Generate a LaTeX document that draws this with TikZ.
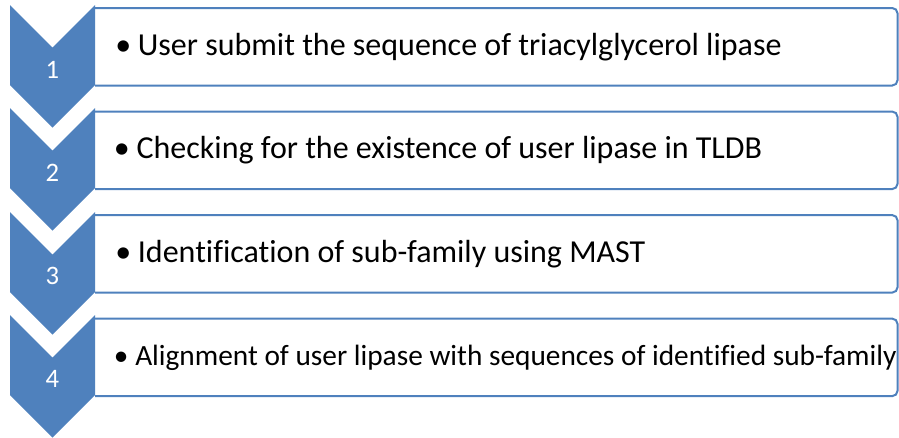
\documentclass[tikz,border=0pt]{standalone}
\usepackage{fontspec}
\setmainfont{Carlito}[Ligatures=NoCommon]
\usetikzlibrary{positioning}

\definecolor{stepblue}{HTML}{4F81BD}

\begin{document}
\begin{tikzpicture}
[x=0.75pt, y=-0.75pt,
 chev/.style={fill=stepblue, draw=none},
 num/.style={text=white, inner sep=0pt, font=\fontsize{20}{22}\selectfont},
 stepbox/.style={minimum width=601.5pt, minimum height=57.75pt, inner sep=0pt,
   fill=white, draw=none},
 boxline/.style={draw=stepblue, line width=1.5pt, rounded corners=4pt},
 steptext/.style={inner sep=0pt, anchor=west, font=\fontsize{24}{28}\selectfont}]
\useasboundingbox (0,0) rectangle (899,437);

% boxes
\node [stepbox, anchor=north west] (b1) at (95,8) {};
\node [stepbox, below=19.5pt of b1] (b2) {};
\node [stepbox, below=19.5pt of b2] (b3) {};
\node [stepbox, below=19.5pt of b3] (b4) {};

% box outlines
\draw [boxline] (b1.north west) -- (b1.north east) -- (b1.south east) -- (b1.south west);
\draw [boxline] (b2.north west) -- (b2.north east) -- (b2.south east) -- (b2.south west);
\draw [boxline] (b3.north west) -- (b3.north east) -- (b3.south east) -- (b3.south west);
\draw [boxline] (b4.north west) -- (b4.north east) -- (b4.south east) -- (b4.south west);

% texts
\node [steptext, right=15pt of b1.west] (t1) {\makebox[17pt][l]{•}User submit the sequence of triacylglycerol lipase};
\node [steptext, right=14pt of b2.west] (t2) {\makebox[17pt][l]{•}Checking for the existence of user lipase in TLDB};
\node [steptext, right=15pt of b3.west] (t3) {\makebox[17pt][l]{•}Identification of sub-family using MAST};
\node [steptext, right=14pt of b4.west, font=\fontsize{22}{26}\selectfont] (t4) {\makebox[16pt][l]{•}Alignment of user lipase with sequences of identified sub-family};

% chevrons
\fill [chev] (10,5) -- (52.5,47.5) -- (95,5) -- (95,85) -- (52.5,127.5) -- (10,85) -- cycle;
\fill [chev] (10,108) -- (52.5,150.5) -- (95,108) -- (95,188) -- (52.5,230.5) -- (10,188) -- cycle;
\fill [chev] (10,212) -- (52.5,254.5) -- (95,212) -- (95,292) -- (52.5,334.5) -- (10,292) -- cycle;
\fill [chev] (10,315) -- (52.5,357.5) -- (95,315) -- (95,395) -- (52.5,437.5) -- (10,395) -- cycle;

% step numbers
\node [num] (n1) at (52.5,70) {1};
\node [num] (n2) at (52.5,173) {2};
\node [num] (n3) at (52.5,276) {3};
\node [num] (n4) at (52.5,379) {4};

\end{tikzpicture}
\end{document}
